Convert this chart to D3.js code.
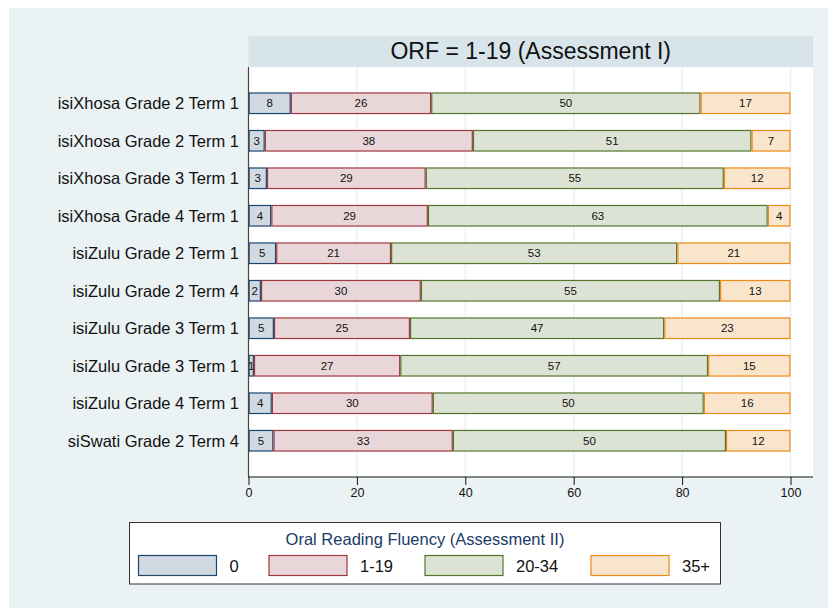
<!DOCTYPE html>
<html>
<head>
<meta charset="utf-8">
<script src="https://cdn.jsdelivr.net/npm/d3@7"></script>
<style>
  html, body { margin: 0; padding: 0; background: #ffffff; }
  svg { display: block; font-family: "Liberation Sans", Arial, Helvetica, sans-serif; }
</style>
</head>
<body>
<svg id="chart" width="828" height="608"></svg>
<script>
// Row labels (top to bottom)
const categories = [
  "isiXhosa Grade 2 Term 1",
  "isiXhosa Grade 2 Term 1 ",
  "isiXhosa Grade 3 Term 1",
  "isiXhosa Grade 4 Term 1",
  "isiZulu Grade 2 Term 1",
  "isiZulu Grade 2 Term 4",
  "isiZulu Grade 3 Term 1",
  "isiZulu Grade 3 Term 1 ",
  "isiZulu Grade 4 Term 1",
  "siSwati Grade 2 Term 4"
];

// Share of learners (%) in each Assessment II ORF band, one value per row
const band0    = [7.8, 3.0, 3.4, 4.2, 5.1, 2.3, 4.7, 1.0, 4.3, 4.6];
const band1_19 = [25.9, 38.4, 29.3, 28.9, 21.2, 29.5, 25.1, 27.0, 29.7, 33.1];
const band20_34 = [49.7, 51.4, 55.0, 62.7, 52.8, 55.2, 46.9, 56.8, 50.0, 50.4];
const band35   = [16.6, 7.2, 12.3, 4.2, 20.9, 13.0, 23.3, 15.2, 16.0, 11.9];

const seriesNames = ["0", "1-19", "20-34", "35+"];
const xTicks = [0, 20, 40, 60, 80, 100];
const titleText = "ORF = 1-19 (Assessment I)";
const legendTitle = "Oral Reading Fluency (Assessment II)";

const fills   = ["#d1dae3", "#e9d6d8", "#dde3d4", "#f9e5cc"];
const strokes = ["#1a476f", "#a0383f", "#55752f", "#ec8a12"];

const keys = ["b0", "b1", "b2", "b3"];
const table = categories.map((c, i) => ({
  cat: c, b0: band0[i], b1: band1_19[i], b2: band20_34[i], b3: band35[i]
}));
const stacked = d3.stack().keys(keys)(table);

const svg = d3.select("#chart");

// Outer graph region
svg.append("rect").attr("x", 9).attr("y", 8).attr("width", 828 - 9).attr("height", 608 - 8)
  .attr("fill", "#eaf2f3");

const plot = { left: 248.5, right: 813, top: 67, bottom: 477 };

// Title band
svg.append("rect").attr("x", plot.left).attr("y", 36)
  .attr("width", plot.right - plot.left).attr("height", plot.top - 36)
  .attr("fill", "#d7e4ea");
svg.append("text").attr("x", (plot.left + plot.right) / 2).attr("y", 59)
  .attr("text-anchor", "middle").attr("font-size", 23).attr("fill", "#111")
  .text(titleText);

// Plot region
svg.append("rect").attr("x", plot.left).attr("y", plot.top)
  .attr("width", plot.right - plot.left).attr("height", plot.bottom - plot.top)
  .attr("fill", "#ffffff");

const x = d3.scaleLinear().domain([0, 100]).range([248.5, 790.5]);
const y = d3.scaleBand().domain(categories).range([plot.top, plot.bottom])
  .paddingInner(0.42).paddingOuter(0.677);

// Vertical gridlines
svg.append("g").selectAll("line").data(xTicks.filter(t => t > 0)).join("line")
  .attr("x1", d => x(d)).attr("x2", d => x(d))
  .attr("y1", plot.top).attr("y2", plot.bottom)
  .attr("stroke", "#eaf2f3").attr("stroke-width", 1.5);

// Stacked bars with value labels
const layers = svg.append("g").selectAll("g").data(stacked).join("g");
layers.each(function(layer, si) {
  const g = d3.select(this);
  g.selectAll("rect").data(layer).join("rect")
    .attr("x", d => x(d[0]) + 0.6)
    .attr("y", d => y(d.data.cat) + 0.6)
    .attr("width", d => Math.max(0, x(d[1]) - x(d[0]) - 1.2))
    .attr("height", y.bandwidth() - 1.2)
    .attr("fill", fills[si]).attr("stroke", strokes[si]).attr("stroke-width", 1.2);
  g.selectAll("text").data(layer).join("text")
    .attr("x", d => (x(d[0]) + x(d[1])) / 2)
    .attr("y", d => y(d.data.cat) + y.bandwidth() / 2)
    .attr("dy", "0.36em")
    .attr("text-anchor", "middle").attr("font-size", 11.5).attr("fill", "#111")
    .text(d => d3.format(".0f")(d[1] - d[0]));
});

// Category labels
svg.append("g").selectAll("text").data(categories).join("text")
  .attr("x", 239).attr("y", d => y(d) + y.bandwidth() / 2).attr("dy", "0.36em")
  .attr("text-anchor", "end").attr("font-size", 16.5).attr("fill", "#111")
  .text(d => d.trim());

// Axes
svg.append("line").attr("x1", plot.left).attr("x2", plot.left)
  .attr("y1", plot.top).attr("y2", plot.bottom).attr("stroke", "#444").attr("stroke-width", 1.2);

const xAxis = svg.append("g").attr("transform", `translate(0,${plot.bottom})`)
  .call(d3.axisBottom(x).tickValues(xTicks).tickSize(8).tickPadding(3).tickFormat(d3.format("d")));
xAxis.select(".domain").remove();
xAxis.selectAll(".tick line").attr("stroke", "#111");
xAxis.selectAll(".tick text").attr("font-size", 12.5).attr("fill", "#111")
  .attr("font-family", "Liberation Sans, Arial, sans-serif");
svg.append("line").attr("x1", plot.left - 0.5).attr("x2", plot.right)
  .attr("y1", plot.bottom).attr("y2", plot.bottom).attr("stroke", "#111").attr("stroke-width", 1.2);

// Legend
const lg = svg.append("g");
lg.append("rect").attr("x", 129.5).attr("y", 522.5).attr("width", 591).attr("height", 61.5)
  .attr("fill", "#ffffff").attr("stroke", "#333").attr("stroke-width", 1);
lg.append("text").attr("x", 425).attr("y", 545).attr("text-anchor", "middle")
  .attr("font-size", 16.5).attr("fill", "#1a3a66").text(legendTitle);
const keyX = [138.5, 269, 425, 591];
seriesNames.forEach((name, i) => {
  lg.append("rect").attr("x", keyX[i]).attr("y", 555.5).attr("width", 78).attr("height", 20)
    .attr("fill", fills[i]).attr("stroke", strokes[i]).attr("stroke-width", 1.2);
  lg.append("text").attr("x", keyX[i] + 78 + 13).attr("y", 571.5)
    .attr("font-size", 16.5).attr("fill", "#111").text(name);
});
</script>
</body>
</html>
